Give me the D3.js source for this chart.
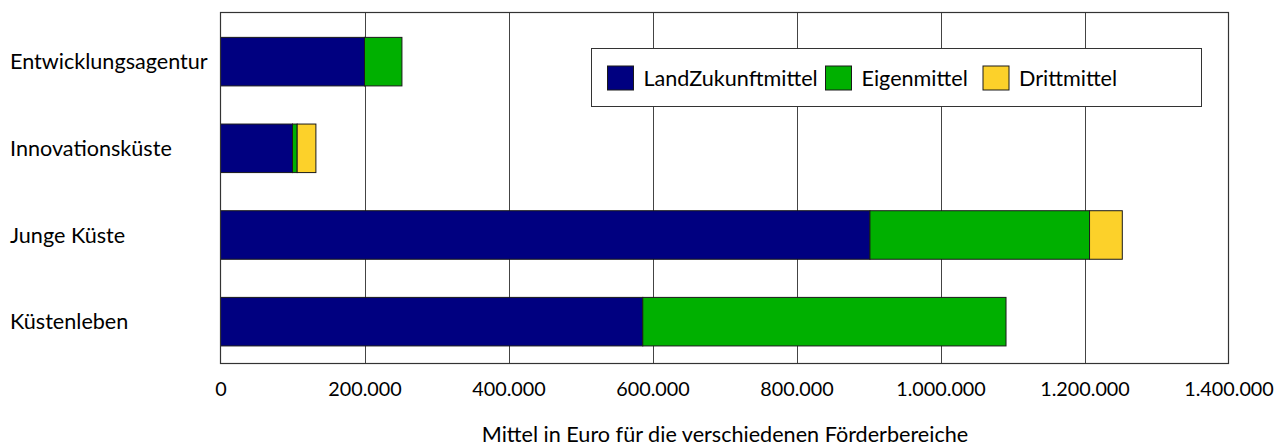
<!DOCTYPE html>
<html>
<head>
<meta charset="utf-8">
<script src="https://cdn.jsdelivr.net/npm/d3@7"></script>
<style>
  html, body { margin: 0; padding: 0; background: #fff; }
  svg text { font-family: Lato, "Open Sans", sans-serif; fill: #000; }
</style>
</head>
<body>
<svg id="chart" width="1288" height="446"></svg>
<script>
// Förderbereiche und Mittel je Finanzierungsquelle (Euro)
const categories = ["Entwicklungsagentur", "Innovationsküste", "Junge Küste", "Küstenleben"];
const seriesNames = ["LandZukunftmittel", "Eigenmittel", "Drittmittel"];
const landZukunftmittel = [200000, 100000, 902000, 586500];
const eigenmittel = [52000, 6500, 305000, 504500];
const drittmittel = [0, 26000, 45500, 0];
const tickValues = [0, 200000, 400000, 600000, 800000, 1000000, 1200000, 1400000];
const colors = ["#000080", "#00b000", "#fcd12a"];
const axisTitle = "Mittel in Euro für die verschiedenen Förderbereiche";

const fontSize = "21.6px";
const tickFontSize = "19.8px";
const svg = d3.select("#chart");
const plot = { left: 220.5, right: 1228.5, top: 12.5, bottom: 363.5 };

const x = d3.scaleLinear().domain([0, 1400000]).range([plot.left, plot.right]);
const y = d3.scaleBand().domain(categories).range([18.3, 365]).paddingInner(0.44).paddingOuter(0.22);

const rows = categories.map((c, i) => ({
  category: c,
  LandZukunftmittel: landZukunftmittel[i],
  Eigenmittel: eigenmittel[i],
  Drittmittel: drittmittel[i]
}));
const stacked = d3.stack().keys(seriesNames)(rows);

// vertical gridlines
svg.append("g").selectAll("line").data(tickValues.slice(1, -1)).join("line")
  .attr("x1", d => Math.round(x(d)) + 0.5).attr("x2", d => Math.round(x(d)) + 0.5)
  .attr("y1", plot.top).attr("y2", plot.bottom)
  .attr("stroke", "#444").attr("stroke-width", 1);

// stacked bars
svg.append("g").selectAll("g").data(stacked).join("g")
  .attr("fill", (d, i) => colors[i])
  .selectAll("rect").data(d => d.filter(s => s[1] - s[0] > 0)).join("rect")
  .attr("x", d => x(d[0]))
  .attr("width", d => x(d[1]) - x(d[0]))
  .attr("y", d => y(d.data.category))
  .attr("height", y.bandwidth())
  .attr("stroke", "#1a1a1a").attr("stroke-width", 1);

// plot frame
svg.append("rect")
  .attr("x", plot.left).attr("y", plot.top)
  .attr("width", plot.right - plot.left).attr("height", plot.bottom - plot.top)
  .attr("fill", "none").attr("stroke", "#333").attr("stroke-width", 1.2);

// x axis tick labels
const xAxis = d3.axisBottom(x).tickValues(tickValues).tickSize(0).tickPadding(0)
  .tickFormat(d => d3.format(",")(d).replace(/,/g, "."));
const gx = svg.append("g").attr("transform", `translate(0,${plot.bottom})`).call(xAxis);
gx.select(".domain").remove();
gx.selectAll("text").attr("dy", 0).attr("y", 32)
  .style("font-size", tickFontSize).style("font-family", "Lato, sans-serif");

// category labels
svg.append("g").selectAll("text").data(categories).join("text")
  .attr("x", 10).attr("y", d => y(d) + y.bandwidth() / 2)
  .attr("dy", "0.35em")
  .style("font-size", fontSize)
  .text(d => d);

// axis title
svg.append("text")
  .attr("x", 725).attr("y", 441.5)
  .attr("text-anchor", "middle")
  .style("font-size", fontSize)
  .text(axisTitle);

// legend
const legend = svg.append("g");
legend.append("rect")
  .attr("x", 591.5).attr("y", 48.5).attr("width", 610).attr("height", 58)
  .attr("fill", "#fff").attr("stroke", "#333").attr("stroke-width", 1);
const legendX = [607.5, 825.5, 983];
const items = legend.selectAll("g.item").data(seriesNames).join("g")
  .attr("class", "item")
  .attr("transform", (d, i) => `translate(${legendX[i]},66)`);
items.append("rect").attr("width", 26).attr("height", 24)
  .attr("fill", (d, i) => colors[i]).attr("stroke", "#1a1a1a").attr("stroke-width", 1);
items.append("text").attr("x", 36).attr("y", 12).attr("dy", "0.35em")
  .style("font-size", fontSize).text(d => d);
</script>
</body>
</html>
